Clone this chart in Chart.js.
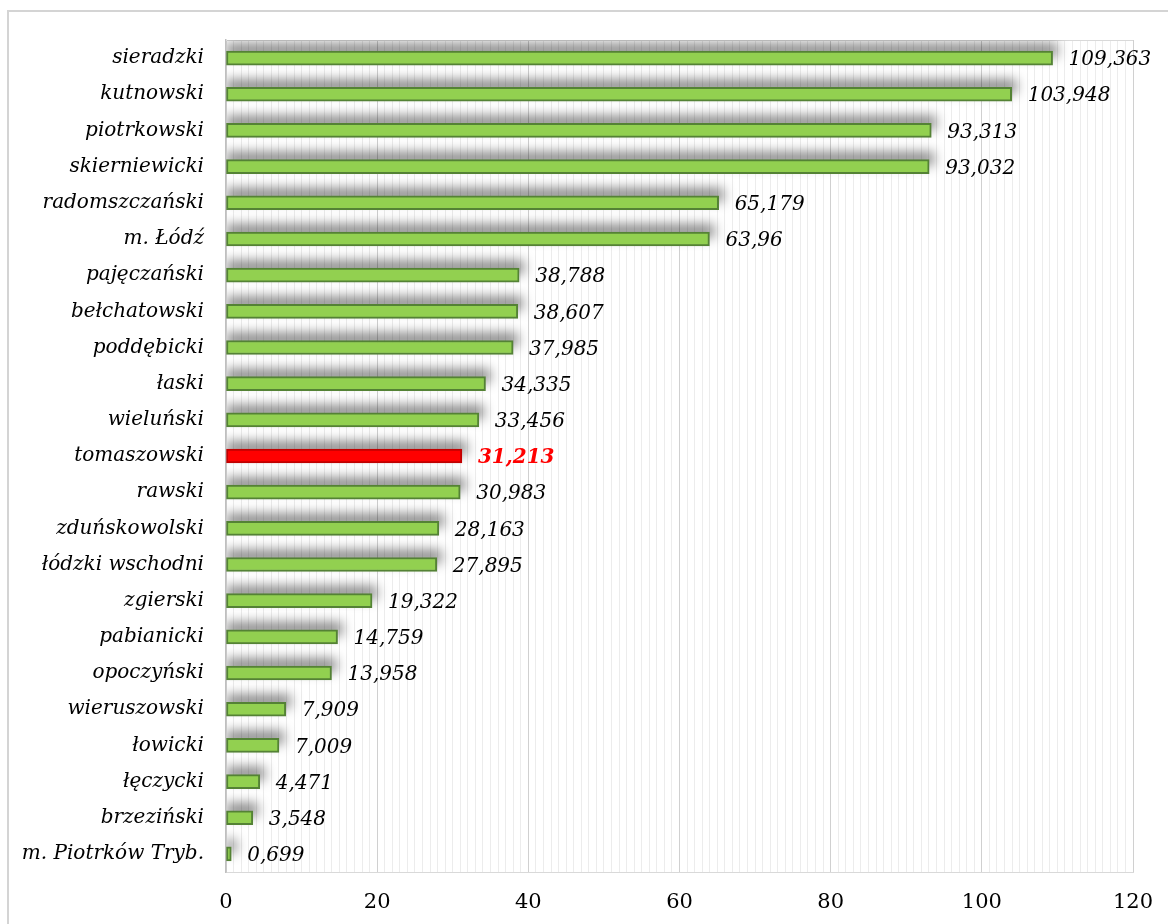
<!DOCTYPE html>
<html>
<head>
<meta charset="utf-8">
<script src="https://cdn.jsdelivr.net/npm/chart.js@4/dist/chart.umd.min.js"></script>
<style>
  body { margin: 0; background: #fff; }
  #frame { position: absolute; left: 7px; top: 10px; width: 1170px; height: 920px;
           border-left: 2px solid #d4d4d4; border-top: 2px solid #d4d4d4; }
  #chart { position: absolute; left: 0; top: 0; }
</style>
</head>
<body>
<div id="frame"></div>
<canvas id="chart" width="1168" height="924"></canvas>
<script>
const powiaty = ['sieradzki', 'kutnowski', 'piotrkowski', 'skierniewicki', 'radomszczański', 'm. Łódź',
    'pajęczański', 'bełchatowski', 'poddębicki', 'łaski', 'wieluński', 'tomaszowski', 'rawski',
    'zduńskowolski', 'łódzki wschodni', 'zgierski', 'pabianicki', 'opoczyński', 'wieruszowski',
    'łowicki', 'łęczycki', 'brzeziński', 'm. Piotrków Tryb.'];
const wartosci = [109.363, 103.948, 93.313, 93.032, 65.179, 63.96, 38.788, 38.607, 37.985, 34.335,
    33.456, 31.213, 30.983, 28.163, 27.895, 19.322, 14.759, 13.958, 7.909, 7.009, 4.471, 3.548, 0.699];
const wyroznione = 'tomaszowski';
const osX = [0, 20, 40, 60, 80, 100, 120];

const fontSerif = '"DejaVu Serif", "Liberation Serif", serif';
const kolory = powiaty.map(p => p === wyroznione ? '#ff0000' : '#92d050');
const obramowania = powiaty.map(p => p === wyroznione ? '#c00000' : '#548235');

const cieniePlugin = {
    id: 'cienie',
    beforeDatasetsDraw(chart) {
        const ctx = chart.ctx, a = chart.chartArea;
        ctx.save();
        ctx.strokeStyle = '#d9d9d9';
        ctx.lineWidth = 1;
        ctx.beginPath();
        ctx.moveTo(a.left, a.top + 0.5);
        ctx.lineTo(a.right, a.top + 0.5);
        ctx.stroke();
        // rozmyty cien nad kazdym slupkiem
        ctx.beginPath();
        ctx.rect(a.left + 1, a.top, a.right - a.left, a.bottom - a.top);
        ctx.clip();
        ctx.filter = 'blur(6px)';
        ctx.fillStyle = 'rgba(0,0,0,0.45)';
        chart.getDatasetMeta(0).data.forEach(bar => {
            const h = bar.height;
            ctx.fillRect(a.left, bar.y - h / 2 - 8, bar.x - a.left + 5, h);
        });
        ctx.restore();
    },
    afterDatasetsDraw(chart) {
        const ctx = chart.ctx;
        const meta = chart.getDatasetMeta(0);
        ctx.save();
        ctx.textBaseline = 'middle';
        ctx.textAlign = 'left';
        meta.data.forEach((bar, i) => {
            const tekst = String(wartosci[i]).replace('.', ',');
            if (powiaty[i] === wyroznione) {
                ctx.fillStyle = '#ff0000';
                ctx.font = 'italic bold 20px ' + fontSerif;
            } else {
                ctx.fillStyle = '#000';
                ctx.font = 'italic 20px ' + fontSerif;
            }
            ctx.fillText(tekst, bar.x + 16, bar.y + 2);
        });
        ctx.restore();
    }
};

const ctx = document.getElementById('chart').getContext('2d');
const chart = new Chart(ctx, {
    type: 'bar',
    data: {
        labels: powiaty,
        datasets: [{
            data: wartosci,
            backgroundColor: kolory,
            borderColor: obramowania,
            borderWidth: 2,
            borderSkipped: false,
            barThickness: 14
        }]
    },
    options: {
        indexAxis: 'y',
        responsive: false,
        animation: false,
        layout: { padding: { top: 40, right: 35, left: 0, bottom: 0 } },
        plugins: { legend: { display: false }, tooltip: { enabled: false } },
        scales: {
            x: {
                min: 0,
                max: 120,
                afterFit(scale) {
                    scale.height = 52;
                    scale.paddingLeft = 0;
                    scale.paddingRight = 0;
                },
                afterBuildTicks(scale) {
                    const t = [];
                    for (let v = 0; v <= 120; v++) t.push({ value: v });
                    scale.ticks = t;
                },
                ticks: {
                    autoSkip: false,
                    maxRotation: 0,
                    padding: 18,
                    color: '#000',
                    font: { family: fontSerif, size: 21 },
                    callback: v => osX.includes(v) ? v : ''
                },
                grid: {
                    drawTicks: false,
                    color: c => (c.tick && c.tick.value % 20 === 0) ? '#d0d0d0' : '#ececec',
                    lineWidth: 1
                },
                border: { color: '#d9d9d9' }
            },
            y: {
                afterFit(scale) { scale.width = 226; },
                ticks: {
                    padding: 22,
                    color: '#000',
                    font: { family: fontSerif, size: 20, style: 'italic' }
                },
                grid: { display: false, drawTicks: false },
                border: { color: '#bfbfbf', width: 1.5 }
            }
        }
    },
    plugins: [cieniePlugin]
});
</script>
</body>
</html>
